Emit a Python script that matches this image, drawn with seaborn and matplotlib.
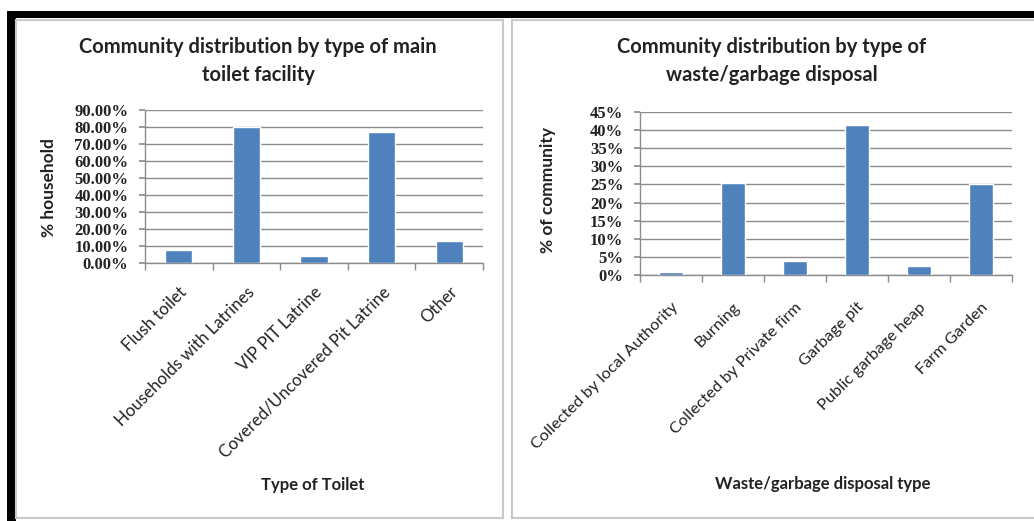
import matplotlib
matplotlib.use("Agg")
import matplotlib.pyplot as plt
import matplotlib.patches as mpatches
from matplotlib.ticker import FixedLocator, FuncFormatter
import seaborn as sns

# left chart: toilet facility
toilet_types = ["Flush toilet", "Households with Latrines", "VIP PIT Latrine",
                "Covered/Uncovered Pit Latrine", "Other"]
toilet_pct = [7.8, 80.2, 3.9, 76.9, 13.1]
toilet_yticks = [0, 10, 20, 30, 40, 50, 60, 70, 80, 90]

# right chart: waste disposal
waste_types = ["Collected by local Authority", "Burning", "Collected by Private firm",
               "Garbage pit", "Public garbage heap", "Farm Garden"]
waste_pct = [0.9, 25.4, 3.9, 41.3, 2.5, 25.1]
waste_yticks = [0, 5, 10, 15, 20, 25, 30, 35, 40, 45]

W, H = 1034, 521
BAR = "#4F81BD"
GRID = "#8C8C8C"
SANS = ["Lato", "DejaVu Sans"]
SERIF = ["Liberation Serif", "DejaVu Serif"]

sns.set_theme(style="white")
plt.rcParams["font.family"] = SANS


def fx(px):
    return px / W


def fy(py):
    return 1 - py / H


def draw_panel(fig, x0, y0, x1, y1):
    fig.patches.append(mpatches.Rectangle((fx(x0), fy(y1)), fx(x1 - x0), (y1 - y0) / H,
                                          transform=fig.transFigure, facecolor="white",
                                          edgecolor="#C8C8C8", linewidth=1.5, zorder=-5))


def bar_chart(fig, box, cats, vals, yticks, fmt, title, title_x, xfs, xpad):
    left, top, right, bottom = box
    ax = fig.add_axes([fx(left), fy(bottom), fx(right - left), (bottom - top) / H])
    ax.set_zorder(2)
    ax.set_facecolor("none")
    sns.barplot(x=cats, y=vals, color=BAR, width=0.4, saturation=1, ax=ax, zorder=3)
    n = len(cats)
    ax.set_xlim(-0.5, n - 0.5)
    ax.set_ylim(0, yticks[-1])
    ax.yaxis.set_major_locator(FixedLocator(yticks))
    ax.yaxis.set_major_formatter(FuncFormatter(fmt))
    ax.grid(axis="y", color=GRID, linewidth=1, zorder=0)
    ax.set_axisbelow(True)
    for s in ["top", "right"]:
        ax.spines[s].set_visible(False)
    for s in ["left", "bottom"]:
        ax.spines[s].set_color(GRID)
        ax.spines[s].set_linewidth(1)
    ax.tick_params(axis="y", left=True, length=4, color=GRID, pad=8)
    ax.tick_params(axis="x", bottom=False, pad=xpad)
    ax.xaxis.set_minor_locator(FixedLocator([i - 0.5 for i in range(n + 1)]))
    ax.tick_params(axis="x", which="minor", bottom=True, length=5, color=GRID)
    for lab in ax.get_yticklabels():
        lab.set_family(SERIF)
        lab.set_fontsize(12)
        lab.set_fontweight("bold")
        lab.set_color("#222222")
    ax.set_xticks(range(n))
    ax.set_xticklabels(cats, rotation=45, ha="right", rotation_mode="anchor",
                       fontsize=xfs, color="#222222")
    ax.set_xlabel("")
    ax.set_ylabel("")
    fig.text(title_x, fy(61), title, ha="center", va="center", fontsize=14.5,
             fontweight="bold", color="#222222", linespacing=1.5)
    return ax


fig = plt.figure(figsize=(W / 100, H / 100), dpi=100)
fig.patch.set_facecolor("white")

# black frame pieces
fig.patches.append(mpatches.Rectangle((fx(7), fy(18)), 1, 7 / H, transform=fig.transFigure,
                                      facecolor="black", edgecolor="none", zorder=-6))
fig.patches.append(mpatches.Rectangle((fx(7), 0), fx(9), fy(11), transform=fig.transFigure,
                                      facecolor="black", edgecolor="none", zorder=-6))

draw_panel(fig, 16, 20, 503, 518)
draw_panel(fig, 512, 20, 1040, 518)

bar_chart(fig, (145, 110, 483, 263), toilet_types, toilet_pct, toilet_yticks,
          lambda v, p: f"{v:.2f}%",
          "Community distribution by type of main\ntoilet facility", fx(258), 12.2, 9)
fig.text(fx(49), fy(188), "% household", rotation=90, ha="center", va="center",
         fontsize=12.5, fontweight="bold", color="#222222")
fig.text(fx(313), fy(485), "Type of Toilet", ha="center", va="center",
         fontsize=12, fontweight="bold", color="#222222")

bar_chart(fig, (640, 112, 1012, 275), waste_types, waste_pct, waste_yticks,
          lambda v, p: f"{v:.0f}%",
          "Community distribution by type of\nwaste/garbage disposal", fx(772), 11.8, 12)
fig.text(fx(548), fy(190), "% of community", rotation=90, ha="center", va="center",
         fontsize=12.5, fontweight="bold", color="#222222")
fig.text(fx(823), fy(484), "Waste/garbage disposal type", ha="center", va="center",
         fontsize=12, fontweight="bold", color="#222222")

fig.savefig("out.png", dpi=100)
